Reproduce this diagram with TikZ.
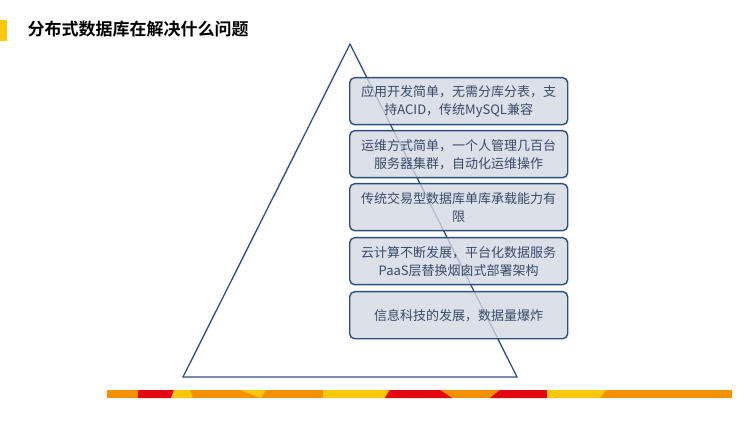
\documentclass[tikz,border=0pt]{standalone}
\usepackage{fontspec}
\newfontfamily\cjk{Noto Sans CJK SC}
\newfontfamily\cjkb{Noto Sans CJK SC Bold}
\definecolor{bord}{HTML}{2F4E7A}
\definecolor{boxf}{HTML}{D3D8E3}
\definecolor{txt}{HTML}{3A4A6A}
\definecolor{bor}{HTML}{F39200}
\definecolor{bre}{HTML}{E30613}
\definecolor{bye}{HTML}{FDC70F}
\tikzset{lvl/.style={draw=bord,line width=1.4pt,rounded corners=5pt,fill=boxf,fill opacity=0.8,text opacity=1,minimum width=218pt,minimum height=47pt,align=center,font=\cjk\fontsize{13}{18}\selectfont,text=txt,anchor=north west,inner sep=1pt}}
\begin{document}
\begin{tikzpicture}[x=1pt,y=-1pt]
\useasboundingbox (0,0) rectangle (750,422);
\fill[bye] (0,20) rectangle (7,41);
\node[anchor=west,font=\cjkb\fontsize{17}{20}\selectfont] (title) at (24,29) {分布式数据库在解决什么问题};
\coordinate (apex) at (350,44);
\coordinate (bl) at (183,377);
\coordinate (br) at (517,377);
\draw[bord,line width=1.3pt,line join=miter] (apex) -- (bl) -- (br) -- cycle;
\node[lvl] (b1) at (349,77) {应用开发简单，无需分库分表，支\\持ACID，传统MySQL兼容};
\node[lvl] (b2) at (349,130) {运维方式简单，一个人管理几百台\\服务器集群，自动化运维操作};
\node[lvl] (b3) at (349,183) {传统交易型数据库单库承载能力有\\限};
\node[lvl] (b4) at (349,237) {云计算不断发展，平台化数据服务\\PaaS层替换烟囱式部署架构};
\node[lvl] (b5) at (349,291) {信息科技的发展，数据量爆炸};
\fill[bor] (107,390) rectangle (732,398);
\fill[bre] (138,390) -- (174,390) -- (171,398) -- (138,398) -- cycle;
\fill[bye] (174,390) -- (190,390) -- (193,398) -- (171,398) -- cycle;
\fill[bye] (240,390) -- (266,390) -- (261,398) -- cycle;
\fill[bye] (323,390) -- (388,390) -- (385,398) -- (323,398) -- cycle;
\fill[bre] (390,390) -- (440,390) -- (452,398) -- (385,398) -- cycle;
\fill[bre] (500,390) -- (547,390) -- (547,398) -- (490,398) -- cycle;
\fill[bye] (547,390) -- (606,390) -- (600,398) -- (547,398) -- cycle;
\end{tikzpicture}
\end{document}
